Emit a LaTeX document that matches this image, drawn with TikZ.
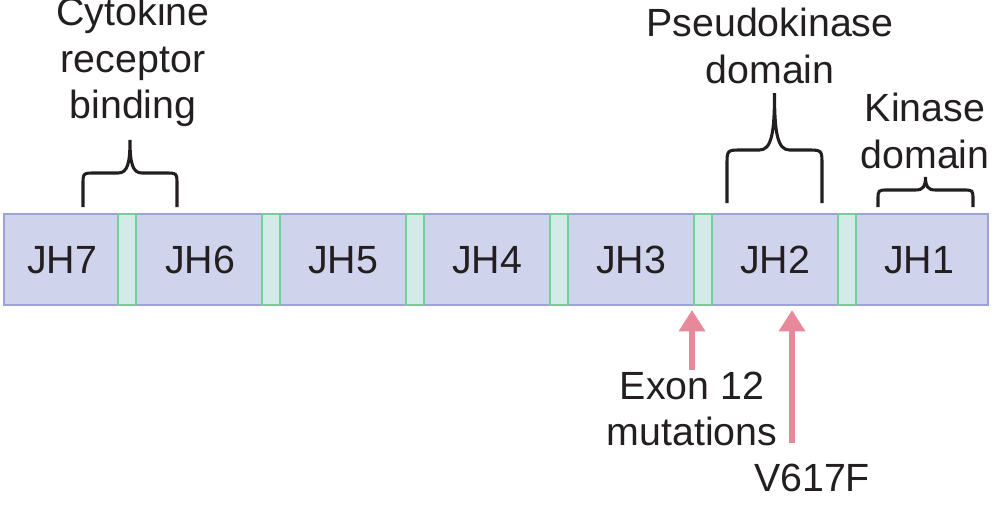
\documentclass[tikz,border=0pt]{standalone}
\usepackage{fontspec}
\setmainfont{Liberation Sans}
\usetikzlibrary{arrows.meta}
\definecolor{barfill}{HTML}{D0D3EC}
\definecolor{barline}{HTML}{9DA3D9}
\definecolor{linkfill}{HTML}{D3EBE6}
\definecolor{linkline}{HTML}{7CC99A}
\definecolor{arrowpink}{HTML}{E8899B}
\definecolor{ink}{HTML}{231F20}
\newcommand\curlybr[6]{%
\draw[bracestyle] (#1,#3) -- (#1,{#4+#6}) .. controls (#1,#4) and (#1,#4) .. ({#1+#6},#4)
 -- ({(#1+#2)/2-#6},#4) .. controls ({(#1+#2)/2-0.2*#6},#4) and ({(#1+#2)/2},{#4-0.3*(#4-#5)}) .. ({(#1+#2)/2},#5)
 .. controls ({(#1+#2)/2},{#4-0.3*(#4-#5)}) and ({(#1+#2)/2+0.2*#6},#4) .. ({(#1+#2)/2+#6},#4)
 -- ({#2-#6},#4) .. controls (#2,#4) and (#2,#4) .. (#2,{#4+#6}) -- (#2,#3);}
\tikzset{
  bar/.style={draw=barline, fill=barfill, line width=1.5pt},
  linker/.style={draw=linkline, fill=linkfill, line width=1.5pt},
  dom/.style={font=\fontsize{29.5}{35}\selectfont, text=ink},
  lbl/.style={font=\fontsize{29.5}{35}\selectfont, text=ink, align=center},
  bracestyle/.style={draw=ink, line width=2.3pt},
  mut/.style={draw=arrowpink, line width=4pt, -{Triangle[length=16pt,width=19pt]}}
}
\begin{document}
\begin{tikzpicture}[x=0.75pt,y=-0.75pt]
\useasboundingbox (0,0) rectangle (1002,504);
\draw[bar] (4,214) rectangle (988,305);
\foreach \i/\x in {1/118,2/262,3/406,4/550,5/694,6/838}{
  \draw[linker] (\x,214) rectangle ({\x+18},305);
}
\node[dom] (jh7) at (62,260) {JH7};
\node[dom] (jh6) at (200,260) {JH6};
\node[dom] (jh5) at (343,260) {JH5};
\node[dom] (jh4) at (487,260) {JH4};
\node[dom] (jh3) at (631,260) {JH3};
\node[dom] (jh2) at (775,260) {JH2};
\node[dom] (jh1) at (919,260) {JH1};
\curlybr{83}{177}{207}{173}{140}{12}
\curlybr{727}{822}{203}{150}{93}{15}
\curlybr{878}{973}{207}{190}{177}{10}
\node[lbl] (cyto) at (133,62) {Cytokine\\receptor\\binding};
\node[lbl] (pseudo) at (770,46) {Pseudokinase\\domain};
\node[lbl] (kin) at (925,131) {Kinase\\domain};
\node[lbl] (exon) at (692,409) {Exon 12\\mutations};
\node[lbl] (v617) at (812,478) {V617F};
\coordinate (exontail) at (692,370);
\coordinate (exontip) at (692,310);
\coordinate (vtail) at (792,443);
\coordinate (vtip) at (792,310);
\draw[mut] (exontail) -- (exontip);
\draw[mut] (vtail) -- (vtip);
\end{tikzpicture}
\end{document}
